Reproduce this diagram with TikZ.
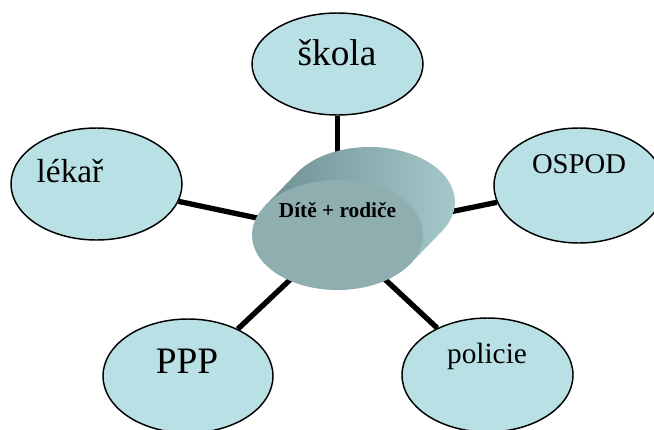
\documentclass[tikz,border=0pt]{standalone}
\usepackage{fontspec}
\setmainfont{Liberation Serif}
\usepackage{tikz}
\usetikzlibrary{shapes,positioning,calc,backgrounds}
\definecolor{bubble}{HTML}{B9E0E4}
\definecolor{hubfront}{HTML}{8FAEAF}
\definecolor{hubdark}{HTML}{6F9092}
\definecolor{hublight}{HTML}{A8CBCD}

\begin{document}
\begin{tikzpicture}[x=0.75pt, y=-0.75pt,
    bubble/.style={ellipse, draw, fill=bubble, line width=1.1pt, inner sep=0pt},
    spoke/.style={line width=4pt},
    hubface/.style={ellipse, fill=hubfront, minimum width=128.25pt, minimum height=82.5pt, inner sep=0pt}]
    \useasboundingbox (0,0) rectangle (654,429);
    % bubliny
    \node[bubble, minimum width=128.25pt, minimum height=76.5pt] (skola) at (337.5,64) {};
    \node[bubble, minimum width=128.25pt, minimum height=84pt] (lekar) at (96.5,184) {};
    \node[bubble, minimum width=127.5pt, minimum height=86.25pt] (ospod) at (579,185.5) {};
    \node[bubble, minimum width=127.5pt, minimum height=85.5pt] (ppp) at (188,376) {};
    \node[bubble, minimum width=128.25pt, minimum height=85.5pt] (policie) at (487.5,375) {};
    % stred (valec)
    \node[hubface] (hub) at (337.5,235) {};
    % popisky
    \node[anchor=base, font=\fontsize{28}{30}\selectfont] (skolaT) at (337,65) {škola};
    \node[anchor=base, font=\fontsize{25}{27}\selectfont] (lekarT) at (70,182) {lékař};
    \node[anchor=base, font=\fontsize{21.5}{24}\selectfont] (ospodT) at (579,173) {OSPOD};
    \node[anchor=base, font=\fontsize{28}{30}\selectfont] (pppT) at (187,373) {PPP};
    \node[anchor=base, font=\fontsize{22}{24}\selectfont] (policieT) at (487,363) {policie};
    \node[anchor=base, font=\bfseries\fontsize{16}{18}\selectfont] (hubT) at (337.5,217) {Dítě + rodiče};
    % spojnice a plast valce
    \begin{scope}[on background layer]
        \draw[spoke] (hub.center) -- (skola);
        \draw[spoke] (hub.center) -- (lekar);
        \draw[spoke] (hub.center) -- (ospod);
        \draw[spoke] (hub.center) -- (ppp);
        \draw[spoke] (hub.center) -- (policie);
        \shade[left color=hubdark, right color=hublight]
            ($(hub.center)+(72.5,29.1)$) -- ++(32,-33)
            arc[start angle=31.95, end angle=-148.05, x radius=85.5, y radius=55]
            -- ($(hub.center)+(-72.5,-29.1)$) -- cycle;
    \end{scope}
\end{tikzpicture}
\end{document}
